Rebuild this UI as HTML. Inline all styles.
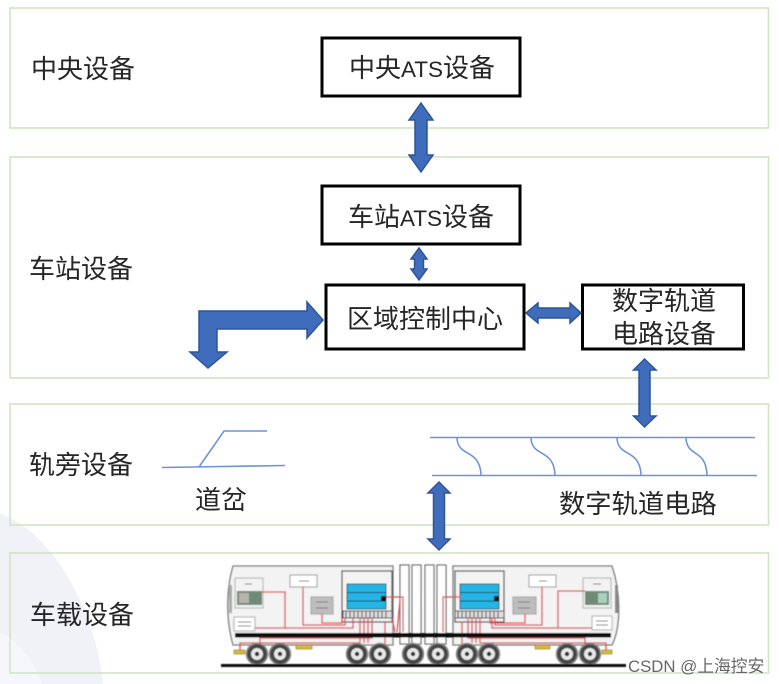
<!DOCTYPE html>
<html><head><meta charset="utf-8"><style>
html,body{margin:0;padding:0;background:#fff}
svg{display:block;filter:blur(.35px)}
text{font-family:"Liberation Sans","Noto Sans CJK SC",sans-serif;fill:#262626}
</style></head><body>
<svg width="779" height="684" viewBox="0 0 779 684" xmlns="http://www.w3.org/2000/svg">
<defs><filter id="b" x="-5%" y="-5%" width="110%" height="110%"><feGaussianBlur stdDeviation="0.45"/></filter></defs>
<rect width="779" height="684" fill="#fff"/>
<path d="M0 513C55 535 95 610 103 684H42C33 660 20 643 0 633Z" fill="#f1f1f8"/>
<path d="M0 633C20 643 33 660 42 684H0Z" fill="#f6f7fc"/>
<g fill="none" stroke="#cfe6c2" stroke-width="1.600">
<rect x="10" y="8" width="758.500" height="120"/>
<rect x="10" y="157" width="758.500" height="221"/>
<rect x="10" y="404" width="758.500" height="121"/>
<rect x="10" y="553" width="758.500" height="120"/>
</g>
<g font-size="26">
<text x="31" y="78">中央设备</text>
<text x="29" y="278">车站设备</text>
<text x="29" y="474">轨旁设备</text>
<text x="30" y="624">车载设备</text>
<text x="195" y="509">道岔</text>
<text x="559" y="513" font-size="26.300">数字轨道电路</text>
</g>
<g fill="#fff" stroke="#000" stroke-width="3">
<rect x="322" y="38" width="198" height="58"/>
<rect x="322" y="186" width="198" height="58"/>
<rect x="326" y="285" width="198" height="64"/>
<rect x="582.500" y="285" width="161" height="64"/>
</g>
<g font-size="26" text-anchor="middle">
<text x="422" y="77">中央<tspan font-size="22.500">ATS</tspan>设备</text>
<text x="421" y="226">车站<tspan font-size="22.500">ATS</tspan>设备</text>
<text x="425" y="328">区域控制中心</text>
<text x="664" y="310">数字轨道</text>
<text x="664" y="343">电路设备</text>
</g>
<g fill="#3f6dbb" stroke="#2f5597" stroke-width="1.500" stroke-linejoin="miter">
<path d="M421 103L433 120H427V155H433L421 172L409 155H415V120H409Z"/>
<path d="M419 248L427 259H423.500V269H427L419 280L411 269H414.500V259H411Z"/>
<path d="M526 313L538 303V308H570V303L581 313L570 323V318H538V323Z"/>
<path d="M644.500 359L656 370H650V416H656L644.500 427L633.500 416H639V370H633.500Z"/>
<path d="M439 482L450 493H444.500V539H450L439 550L428 539H433.500V493H428Z"/>
<path d="M323 320L307 302V311H199V352H190L208 368L227 352H217V329H307V338Z"/>
</g>
<g fill="none" stroke="#6f94d6" stroke-width="1.600">
<path d="M162 467.500L285 465.500"/>
<path d="M199 467L224 431H267"/>
<path d="M430 437.500H755M432 475.500H757"/>
<path d="M457 438C458 458 480 448 481 475M531 438C532 458 554 448 555 475M617 438C618 458 640 448 641 475M686 438C687 458 706 448 707 475"/>
</g>
<!-- train -->
<g filter="url(#b)">
<path d="M233 566H393V645H233C226 620 226 590 233 566Z" fill="#f3f3f3" stroke="#777" stroke-width="1.300"/>
<path d="M453 566H612C620 590 622 625 612 645H453Z" fill="#f3f3f3" stroke="#777" stroke-width="1.300"/>
<rect x="615" y="585" width="3" height="28" fill="#888"/>
<rect x="229" y="585" width="3" height="28" fill="#aaa"/>
<g fill="#fff" stroke="#666" stroke-width="1.200">
<rect x="400" y="565" width="9" height="79"/>
<rect x="412" y="565" width="9" height="79"/>
<rect x="425" y="565" width="9" height="79"/>
<rect x="437" y="565" width="9" height="79"/>
<rect x="342" y="571" width="50" height="51" fill="#f3f3f3" stroke="#444"/>
<rect x="455" y="571" width="49" height="51" fill="#f3f3f3" stroke="#444"/>
<rect x="235" y="578" width="28" height="30" fill="#f2f2f2" stroke="#bbb"/>
<rect x="583" y="578" width="28" height="30" fill="#f2f2f2" stroke="#bbb"/>
<rect x="290" y="575" width="27" height="12" stroke="#aaa"/>
<rect x="529" y="575" width="27" height="12" stroke="#aaa"/>
<rect x="234" y="617" width="21" height="14" stroke="#bbb"/>
<rect x="592" y="616" width="20" height="14" stroke="#bbb"/>
<rect x="311" y="597" width="22" height="17" fill="#bdbdbd" stroke="#aaa"/>
<rect x="513" y="597" width="23" height="17" fill="#bdbdbd" stroke="#aaa"/>
</g>
<rect x="237" y="591" width="25" height="14" fill="#6f8a78"/>
<rect x="585" y="591" width="24" height="14" fill="#6f8a78"/>
<rect x="239" y="593" width="10" height="10" fill="#b9b3ae"/>
<rect x="598" y="593" width="9" height="10" fill="#a8d0bc"/>
<rect x="347" y="584" width="39" height="25" fill="#24b5e6" stroke="#333" stroke-width=".8"/>
<rect x="460" y="584" width="39" height="25" fill="#24b5e6" stroke="#333" stroke-width=".8"/>
<path d="M347 592.500H386M347 601H386M460 592.500H499M460 601H499" stroke="#222" stroke-width=".8"/>
<rect x="381" y="596" width="5" height="5" fill="#111"/>
<rect x="494" y="596" width="5" height="5" fill="#111"/>
<path d="M299 581H309M539 581H547M245 584H252M593 584H601M316 602H328M316 608H328M518 602H530M518 608H530M238 622H251M238 626H251M596 621H608M596 625H608" stroke="#777" stroke-width="1"/>
<rect x="343" y="611" width="49" height="7" fill="#ddd" stroke="#444" stroke-width="1"/>
<rect x="455" y="611" width="49" height="7" fill="#ddd" stroke="#444" stroke-width="1"/>
<path d="M346 611v7M350 611v7M354 611v7M358 611v7M362 611v7M366 611v7M370 611v7M374 611v7M378 611v7M382 611v7M386 611v7M458 611v7M462 611v7M466 611v7M470 611v7M474 611v7M478 611v7M482 611v7M486 611v7M490 611v7M494 611v7M498 611v7" stroke="#333" stroke-width="1"/>
<g fill="none" stroke="#d9505a" stroke-width="1.300">
<path d="M262 592H285V628M255 628H353V618M303 587V625H345V618M322 614V623H342V618"/>
<path d="M360 618V643M364 618V643M368 618V643M372 618V638H260V650M360 643H240V652M385 622V655"/>
<path d="M386 597H403V632M395 632L392 618M397 632L400 600"/>
<path d="M585 591H558V628M592 628H492V618M542 587V625H495V618M525 614V623H490V618"/>
<path d="M480 618V643M476 618V643M472 618V643M468 618V638H585V650M480 643H606V652M462 622V655"/>
<path d="M461 597H443V632"/>
</g>
<g fill="#d8b83a" stroke="#8a7a20" stroke-width=".6">
<rect x="234" y="650" width="11" height="4"/>
<rect x="296" y="645" width="16" height="4"/>
<rect x="535" y="645" width="15" height="4"/>
<rect x="602" y="650" width="10" height="4"/>
</g>
<rect x="235" y="633" width="376" height="4.500" fill="#111"/>
<g fill="#444" stroke="#888" stroke-width="1.500">
<circle cx="257" cy="654" r="10.500"/><circle cx="280" cy="654" r="10.500"/>
<circle cx="357" cy="654" r="10.500"/><circle cx="380" cy="654" r="10.500"/>
<circle cx="413" cy="654" r="10.500"/><circle cx="438" cy="654" r="10.500"/>
<circle cx="467" cy="654" r="10.500"/><circle cx="489" cy="654" r="10.500"/>
<circle cx="567" cy="654" r="10.500"/><circle cx="590" cy="654" r="10.500"/>
</g>
<g fill="#e8e8e8">
<circle cx="257" cy="654" r="6"/><circle cx="280" cy="654" r="6"/>
<circle cx="357" cy="654" r="6"/><circle cx="380" cy="654" r="6"/>
<circle cx="413" cy="654" r="6"/><circle cx="438" cy="654" r="6"/>
<circle cx="467" cy="654" r="6"/><circle cx="489" cy="654" r="6"/>
<circle cx="567" cy="654" r="6"/><circle cx="590" cy="654" r="6"/>
</g>
<g fill="#333">
<circle cx="257" cy="654" r="2.200"/><circle cx="280" cy="654" r="2.200"/>
<circle cx="357" cy="654" r="2.200"/><circle cx="380" cy="654" r="2.200"/>
<circle cx="413" cy="654" r="2.200"/><circle cx="438" cy="654" r="2.200"/>
<circle cx="467" cy="654" r="2.200"/><circle cx="489" cy="654" r="2.200"/>
<circle cx="567" cy="654" r="2.200"/><circle cx="590" cy="654" r="2.200"/>
</g>
<rect x="221" y="664" width="405" height="3" fill="#111"/>
</g>
<text x="628" y="672" font-size="16.800" style="fill:#666">CSDN @上海控安</text>
</svg>
</body></html>
